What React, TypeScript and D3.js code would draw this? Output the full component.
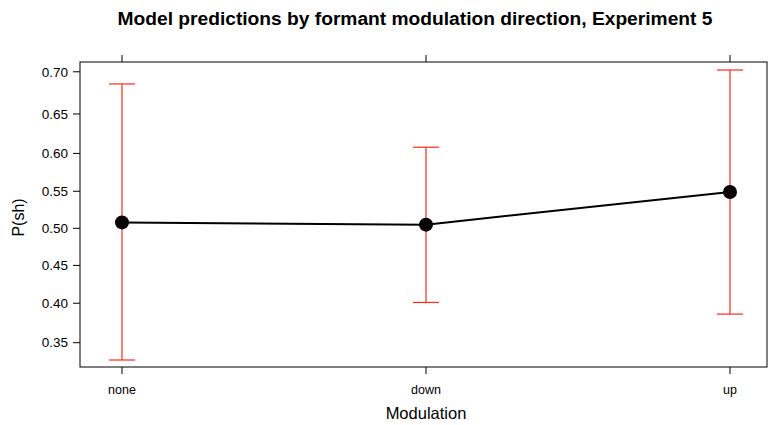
import React from "react";
import * as d3 from "d3";

const categories = ["none", "down", "up"];
const fitValues = [0.508, 0.505, 0.549];
const lowerValues = [0.329, 0.401, 0.386];
const upperValues = [0.686, 0.608, 0.702];
const yTickValues = [0.35, 0.4, 0.45, 0.5, 0.55, 0.6, 0.65, 0.7];

const W = 768;
const H = 425;
const frame = { left: 80, right: 767, top: 62, bottom: 367 };

const logit = (p: number) => Math.log(p / (1 - p));

export default function App() {
  const x = d3
    .scalePoint<string>()
    .domain(categories)
    .range([122, 730]);

  // probabilities are drawn on the logit scale
  const yLin = d3
    .scaleLinear()
    .domain([logit(0.3207), logit(0.711)])
    .range([frame.bottom, frame.top]);
  const y = (p: number) => yLin(logit(p));

  const line = d3
    .line<number>()
    .x((_, i) => x(categories[i]) as number)
    .y((d) => y(d));

  const red = "#ff2a1a";
  const font = "'Liberation Sans', Arial, Helvetica, sans-serif";

  return (
    <svg
      width={W}
      height={H}
      style={{ position: "absolute", left: 0, top: 0 }}
      fontFamily={font}
    >
      <rect width={W} height={H} fill="#fff" />
      <text
        x={415}
        y={25}
        textAnchor="middle"
        fontSize={19.2}
        fontWeight="bold"
        fill="#000"
      >
        Model predictions by formant modulation direction, Experiment 5
      </text>

      {/* panel frame */}
      <rect
        x={frame.left}
        y={frame.top}
        width={frame.right - frame.left}
        height={frame.bottom - frame.top}
        fill="none"
        stroke="#000"
        strokeWidth={1}
      />

      {/* y axis */}
      {yTickValues.map((t) => (
        <g key={t}>
          <line
            x1={frame.left - 7}
            x2={frame.left}
            y1={y(t)}
            y2={y(t)}
            stroke="#000"
          />
          <text
            x={frame.left - 12}
            y={y(t)}
            dy="0.35em"
            textAnchor="end"
            fontSize={13.5}
            fill="#000"
          >
            {t.toFixed(2)}
          </text>
        </g>
      ))}

      {/* x axis ticks (bottom and top) */}
      {categories.map((c) => (
        <g key={c}>
          <line
            x1={x(c)}
            x2={x(c)}
            y1={frame.bottom}
            y2={frame.bottom + 7}
            stroke="#000"
          />
          <line
            x1={x(c)}
            x2={x(c)}
            y1={frame.top - 7}
            y2={frame.top}
            stroke="#000"
          />
          <text
            x={x(c)}
            y={390}
            dy="0.35em"
            textAnchor="middle"
            fontSize={12.5}
            fill="#000"
          >
            {c}
          </text>
        </g>
      ))}

      <text
        x={426}
        y={413}
        dy="0.35em"
        textAnchor="middle"
        fontSize={16.5}
        fill="#000"
      >
        Modulation
      </text>
      <text
        transform={`translate(18, ${(frame.top + frame.bottom) / 2 + 3}) rotate(-90)`}
        textAnchor="middle"
        dy="0.35em"
        fontSize={16}
        fill="#000"
      >
        P(sh)
      </text>

      {/* confidence intervals */}
      {categories.map((c, i) => {
        const cx = x(c) as number;
        return (
          <g key={c} stroke={red} strokeWidth={1.2}>
            <line x1={cx} x2={cx} y1={y(lowerValues[i])} y2={y(upperValues[i])} />
            <line
              x1={cx - 13}
              x2={cx + 13}
              y1={y(lowerValues[i])}
              y2={y(lowerValues[i])}
            />
            <line
              x1={cx - 13}
              x2={cx + 13}
              y1={y(upperValues[i])}
              y2={y(upperValues[i])}
            />
          </g>
        );
      })}

      {/* fitted values */}
      <path d={line(fitValues) ?? ""} fill="none" stroke="#000" strokeWidth={2} />
      {categories.map((c, i) => (
        <circle key={c} cx={x(c)} cy={y(fitValues[i])} r={7} fill="#000" />
      ))}
    </svg>
  );
}
